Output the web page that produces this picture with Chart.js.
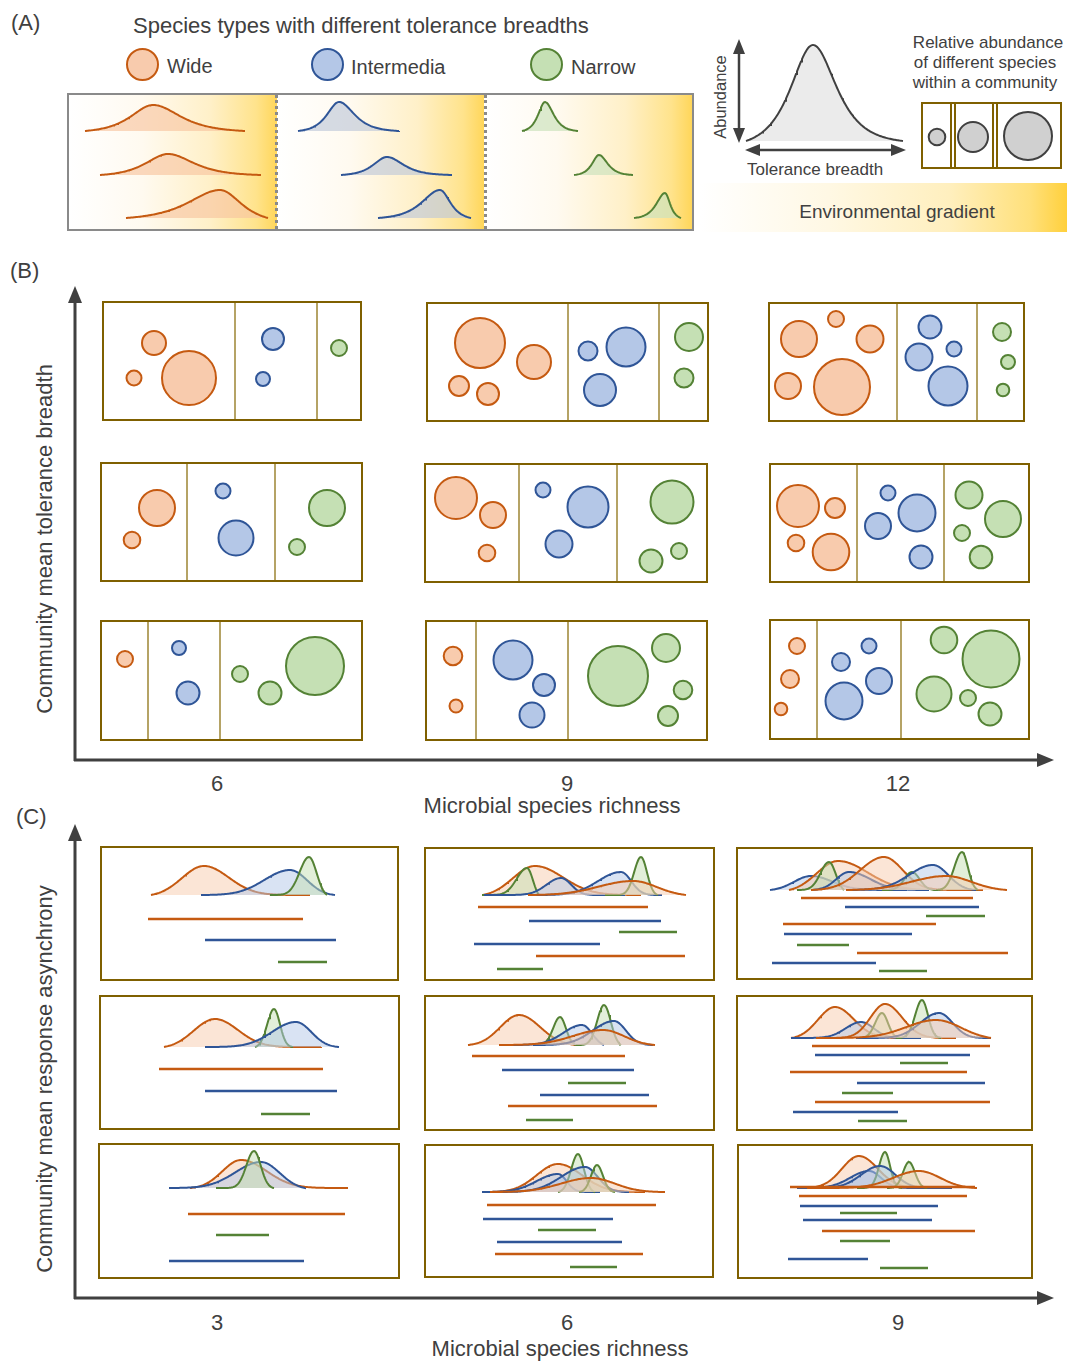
<!DOCTYPE html>
<html>
<head>
<meta charset="utf-8">
<title>Tolerance breadth, richness and asynchrony</title>
<script src="https://cdn.jsdelivr.net/npm/chart.js@4.4.1/dist/chart.umd.min.js"></script>
<style>
  body { margin: 0; width: 1067px; height: 1361px; position: relative; overflow: hidden; background: #fff;
         font-family: "Liberation Sans", Arial, sans-serif; color: #404040; }
  .t { position: absolute; white-space: nowrap; line-height: 1; }
  .c { transform: translate(-50%, -50%); }
  .l { transform: translateY(-50%); }
  .v { transform: translate(-50%, -50%) rotate(-90deg); }
  .frame { position: absolute; box-sizing: border-box; border: 2px solid #7F6000; background: #fff; }
  .sep { position: absolute; top: 0; bottom: 0; width: 2px; background: #B5A365; }
  .dot { position: absolute; width: 33px; height: 33px; box-sizing: border-box; border: 2.5px solid; border-radius: 50%; }
  .grad { flex: 1; background: linear-gradient(90deg, #fff 0%, #fffaf0 35%, #fff0c8 68%, #ffe38c 90%, #ffd65a 100%); }
  canvas { position: absolute; z-index: 2; }
  svg { position: absolute; left: 0; top: 0; }
</style>
</head>
<body>

<!-- (A) -->
<div class="t l" style="left:11px;top:23px;font-size:22px">(A)</div>
<div class="t l" style="left:133px;top:26px;font-size:22px">Species types with different tolerance breadths</div>
<div class="dot" style="left:126px;top:48px;background:#F8CBAD;border-color:#C55A11"></div>
<div class="t l" style="left:167px;top:66px;font-size:20px">Wide</div>
<div class="dot" style="left:311px;top:48px;background:#B4C7E7;border-color:#2F5597"></div>
<div class="t l" style="left:351px;top:67px;font-size:20px">Intermedia</div>
<div class="dot" style="left:530px;top:48px;background:#C5E0B4;border-color:#548235"></div>
<div class="t l" style="left:571px;top:67px;font-size:20px">Narrow</div>

<div style="position:absolute;left:67px;top:93px;width:627px;height:138px;box-sizing:border-box;border:2px solid #8a8a8a;display:flex">
  <div class="grad"></div><div class="grad"></div><div class="grad"></div>
</div>
<div style="position:absolute;left:275px;top:95px;height:134px;border-left:3px dotted #8a8a8a"></div>
<div style="position:absolute;left:484px;top:95px;height:134px;border-left:3px dotted #8a8a8a"></div>

<div class="t v" style="left:720px;top:97px;font-size:16.5px">Abundance</div>
<div class="t l" style="left:747px;top:169px;font-size:17px">Tolerance breadth</div>
<div class="t c" style="left:988px;top:42px;font-size:17px">Relative abundance</div>
<div class="t c" style="left:985px;top:62px;font-size:17px">of different species</div>
<div class="t c" style="left:985px;top:82px;font-size:17px">within a community</div>
<div class="frame" style="left:921px;top:102px;width:141px;height:67px"></div>
<div style="position:absolute;left:950px;top:104px;width:2px;height:63px;border-left:2px solid #7F6000;border-right:2px solid #7F6000"></div>
<div style="position:absolute;left:992px;top:104px;width:2px;height:63px;border-left:2px solid #7F6000;border-right:2px solid #7F6000"></div>
<div style="position:absolute;left:700px;top:183px;width:367px;height:49px;background:linear-gradient(90deg,#fff 0%,#fff8e4 35%,#ffefbe 68%,#ffe07a 90%,#ffd03c 100%)"></div>
<div class="t c" style="left:897px;top:211px;font-size:19px">Environmental gradient</div>

<!-- (B) -->
<div class="t l" style="left:10px;top:271px;font-size:22px">(B)</div>
<div class="t v" style="left:45px;top:539px;font-size:22px">Community mean tolerance breadth</div>
<div class="t c" style="left:217px;top:784px;font-size:22px" id="tb0"></div>
<div class="t c" style="left:567px;top:784px;font-size:22px" id="tb1"></div>
<div class="t c" style="left:898px;top:784px;font-size:22px" id="tb2"></div>
<div class="t c" style="left:552px;top:806px;font-size:22px">Microbial species richness</div>

<!-- (C) -->
<div class="t l" style="left:16px;top:817px;font-size:22px">(C)</div>
<div class="t v" style="left:45px;top:1079px;font-size:22px">Community mean response asynchrony</div>
<div class="t c" style="left:217px;top:1323px;font-size:22px" id="tc0"></div>
<div class="t c" style="left:567px;top:1323px;font-size:22px" id="tc1"></div>
<div class="t c" style="left:898px;top:1323px;font-size:22px" id="tc2"></div>
<div class="t c" style="left:560px;top:1349px;font-size:22px">Microbial species richness</div>

<svg width="1067" height="1361" fill="#404040" stroke="#404040">
  <line x1="75" y1="761" x2="75" y2="298" stroke-width="3"/>
  <polygon points="75,286 68,303 82,303" stroke="none"/>
  <line x1="74" y1="760" x2="1040" y2="760" stroke-width="3"/>
  <polygon points="1054,760 1037,753 1037,767" stroke="none"/>
  <line x1="75" y1="1299" x2="75" y2="836" stroke-width="3"/>
  <polygon points="75,824 68,841 82,841" stroke="none"/>
  <line x1="74" y1="1298" x2="1040" y2="1298" stroke-width="3"/>
  <polygon points="1054,1298 1037,1291 1037,1305" stroke="none"/>
  <line x1="739" y1="50" x2="739" y2="132" stroke-width="2.5"/>
  <polygon points="739,39 733,54 745,54" stroke="none"/>
  <polygon points="739,143 733,128 745,128" stroke="none"/>
  <line x1="757" y1="150" x2="893" y2="150" stroke-width="2.5"/>
  <polygon points="745,150 760,144 760,156" stroke="none"/>
  <polygon points="906,150 891,144 891,156" stroke="none"/>
</svg>

<script>
// ---------------- data ----------------
const speciesTypes = ['Wide', 'Intermedia', 'Narrow'];   // o, b, g
const richnessB = ['6', '9', '12'];
const richnessC = ['3', '6', '9'];

// (A) response curves: [type, row, start, optimum, end, halfLeft, halfRight, height]
const curvesA = [
  ['o', 0, 18, 86, 178, 26, 32, 26],
  ['o', 1, 33, 101, 194, 26, 30, 21],
  ['o', 2, 59, 153, 201, 37, 25, 28],
  ['b', 0, 231, 272, 332, 14, 18, 29],
  ['b', 1, 274, 320, 385, 16, 19, 18],
  ['b', 2, 311, 373, 404, 21, 12, 28],
  ['g', 0, 455, 478, 511, 8, 10, 29],
  ['g', 1, 507, 532, 566, 8, 10, 20],
  ['g', 2, 567, 598, 614, 10, 6, 25],
];
// abundance vs tolerance breadth sketch
const sketchCurve = ['k', 0, 6, 73, 163, 26, 27, 96];
// relative abundance example: [x, y, r]
const abundanceExample = [[16, 35, 8.3], [52, 35, 15], [107, 34, 24]];

// (B) communities: [type, x, y, r]  rows: high / mid / low tolerance breadth
const B6hi = [['o',52,42,12],['o',32,77,7.5],['o',87,77,27],['b',171,38,11],['b',161,78,7],['g',237,47,8]];
const B9hi = [['o',54,41,25],['o',108,60,17],['o',33,84,10],['o',62,92,11],['b',162,49,9.5],['b',200,45,19.5],['b',174,88,16],['g',263,35,14],['g',258,76,9.5]];
const B12hi = [['o',31,37,18],['o',68,17,8],['o',102,37,13.5],['o',20,84,13],['o',74,85,28],['b',162,25,11.5],['b',151,55,13.5],['b',186,47,7.5],['b',180,84,19.5],['g',234,30,9],['g',240,60,7],['g',235,88,6.3]];
const B6mid = [['o',57,46,18],['o',32,78,8.3],['b',123,29,7.5],['b',136,76,17.5],['g',227,46,18],['g',197,85,8]];
const B9mid = [['o',32,35,21],['o',69,52,13],['o',63,90,8.3],['b',119,27,7.5],['b',164,44,20.5],['b',135,81,13.5],['g',248,39,21.5],['g',227,98,11.5],['g',255,88,8]];
const B12mid = [['o',29,43,21],['o',66,45,10],['o',27,80,8.3],['o',62,89,18.3],['b',119,30,7.5],['b',148,50,18.5],['b',109,63,13],['b',152,94,11.5],['g',200,32,13.5],['g',234,56,18],['g',193,70,8],['g',212,94,11.3]];
const B6lo = [['o',25,39,8],['b',79,28,7],['b',88,73,11.5],['g',140,54,8],['g',170,73,11.5],['g',215,46,29]];
const B9lo = [['o',28,36,9.3],['o',31,86,6.5],['b',88,40,19.5],['b',119,65,11],['b',107,95,12.5],['g',193,56,30],['g',241,28,14],['g',258,70,9.3],['g',243,96,10]];
const B12lo = [['o',28,27,8],['o',21,60,9],['o',12,90,6.3],['b',100,27,7.5],['b',72,43,9],['b',110,62,13],['b',75,82,18.5],['g',175,21,13.3],['g',222,40,28.5],['g',165,75,17.5],['g',199,79,8],['g',221,95,11.5]];

// (C) response curves: [type, start, optimum, end, halfLeft, halfRight, height]
//     tolerance ranges: [type, from, to, level]
const C3hiCurves = [['o',51,104,210,26,29,29],['b',101,190,235,30,20,25],['g',170,209,227,11,9,38]];
const C3hiRanges = [['o',48,203,73],['b',105,236,94],['g',178,227,116]];
const C6hiCurves = [['o',59,111,217,26,33,29],['g',58,103,115,12,7,27],['b',60,137,201,17,12,17],['b',105,197,238,27,12,23],['g',181,217,234,8,7,38],['o',104,209,262,40,28,14]];
const C6hiRanges = [['o',54,224,60],['b',105,237,74],['g',195,253,85],['b',50,176,97],['o',112,261,109],['g',73,119,122]];
const C9hiCurves = [['b',34,75,170,20,25,14],['o',53,102,193,25,35,29],['g',61,93,108,10,8,28],['b',75,113,193,15,25,18],['o',75,148,247,28,22,33],['g',146,176,199,9,9,18],['b',110,197,240,28,18,25],['g',200,226,242,9,7,38],['o',110,210,271,40,30,14]];
const C9hiRanges = [['o',65,237,51],['b',109,243,60],['g',190,249,69],['o',47,200,77],['b',48,176,87],['g',61,113,98],['o',121,272,106],['b',36,140,116],['g',143,191,124]];
const C3midCurves = [['o',65,116,222,25,27,28],['g',156,175,194,8,7,38],['b',106,197,240,28,18,25]];
const C3midRanges = [['o',60,224,74],['b',106,238,96],['g',162,211,119]];
const C6midCurves = [['o',44,95,152,22,25,30],['g',109,136,152,8,7,28],['b',76,158,180,22,12,20],['g',152,180,197,8,8,40],['b',109,190,229,25,14,24],['o',75,179,231,35,25,15]];
const C6midRanges = [['o',48,201,61],['b',78,210,75],['g',144,202,88],['b',116,225,100],['o',84,233,111],['g',102,149,125]];
const C9midCurves = [['o',55,99,170,20,22,31],['b',55,125,185,18,15,16],['g',120,146,165,8,7,25],['o',90,149,220,17,20,34],['g',160,186,205,8,7,38],['b',120,203,255,22,16,25],['o',80,200,255,35,30,18]];
const C9midRanges = [['o',76,254,51],['b',79,234,60],['g',164,212,68],['o',54,231,77],['b',121,249,88],['g',106,157,98],['o',79,254,107],['b',57,162,117],['g',122,171,126]];
const C3loCurves = [['o',92,143,250,22,30,28],['b',71,163,207,30,22,26],['g',118,156,176,9,8,37]];
const C3loRanges = [['o',90,247,71],['g',118,171,92],['b',71,206,118]];
const C6loCurves = [['o',64,134,221,25,28,28],['b',58,134,176,25,10,18],['g',134,154,171,8,7,38],['b',60,161,205,28,15,25],['g',155,173,191,7,7,27],['o',66,167,241,35,28,14]];
const C6loRanges = [['o',63,232,61],['b',59,189,75],['g',114,172,86],['b',73,198,98],['o',71,219,110],['g',146,193,123]];
const C9loCurves = [['o',60,122,200,20,22,32],['b',60,132,200,22,14,17],['g',120,148,165,7,6,36],['b',80,143,215,22,18,22],['g',150,172,190,7,7,26],['o',70,182,240,30,25,17]];
const C9loRanges = [['o',53,238,43],['o',62,230,52],['b',63,201,62],['g',103,160,69],['b',66,195,76],['o',85,238,87],['g',103,153,97],['b',51,131,115],['g',143,191,124]];

// ---------------- layout & style ----------------
const colors = {
  o: { line: '#C55A11', fillA: 'rgba(248,196,160,0.65)', fillC: 'rgba(248,203,173,0.5)', bubble: '#F8CBAD' },
  b: { line: '#2F5597', fillA: 'rgba(190,200,216,0.65)', fillC: 'rgba(180,199,231,0.5)', bubble: '#B4C7E7' },
  g: { line: '#548235', fillA: 'rgba(205,226,190,0.7)', fillC: 'rgba(197,224,180,0.5)', bubble: '#C5E0B4' },
  k: { line: '#404040', fillA: '#EBEBEB' },
};
const rowBaseA = [38, 82, 125];

// [left, top, width, height, divider1, divider2]
const framesB = [
  [102, 301, 260, 120, 133, 215, B6hi], [426, 302, 283, 120, 142, 233, B9hi], [768, 302, 257, 120, 129, 209, B12hi],
  [100, 462, 263, 120, 87, 175, B6mid], [424, 463, 284, 120, 95, 193, B9mid], [769, 463, 261, 120, 88, 175, B12mid],
  [100, 620, 263, 121, 48, 120, B6lo], [425, 620, 283, 121, 51, 143, B9lo], [769, 619, 261, 121, 48, 132, B12lo],
];
// [left, top, width, height, baseline]
const framesC = [
  [100, 846, 299, 135, 49, C3hiCurves, C3hiRanges], [424, 847, 291, 134, 48, C6hiCurves, C6hiRanges], [736, 847, 297, 133, 43, C9hiCurves, C9hiRanges],
  [99, 995, 301, 135, 52, C3midCurves, C3midRanges], [424, 995, 291, 136, 50, C6midCurves, C6midRanges], [736, 995, 297, 136, 43, C9midCurves, C9midRanges],
  [98, 1143, 302, 136, 45, C3loCurves, C3loRanges], [424, 1144, 290, 134, 48, C6loCurves, C6loRanges], [737, 1144, 296, 135, 44, C9loCurves, C9loRanges],
];

richnessB.forEach((s, i) => { document.getElementById('tb' + i).textContent = s; });
richnessC.forEach((s, i) => { document.getElementById('tc' + i).textContent = s; });

// ---------------- helpers ----------------
const shapes = {
  sech: (t) => 1 / Math.cosh(1.317 * t),     // half height at t = 1
  gauss: (t) => Math.exp(-0.693 * t * t),
};

function curvePoints(kind, start, mu, end, wl, wr, h, base) {
  const f = shapes[kind];
  const endL = f((mu - start) / wl), endR = f((end - mu) / wr);
  const pts = [];
  for (let x = start; x <= end + 0.001; x += 1) {
    const left = x < mu;
    const t = Math.abs(x - mu) / (left ? wl : wr);
    const e = left ? endL : endR;
    const v = Math.max(0, (f(t) - e) / (1 - e));
    pts.push({ x: x, y: base - h * v });
  }
  return pts;
}

function addCanvas(x, y, w, h) {
  const c = document.createElement('canvas');
  c.width = w; c.height = h;
  c.style.left = x + 'px'; c.style.top = y + 'px';
  c.style.width = w + 'px'; c.style.height = h + 'px';
  document.body.appendChild(c);
  return c;
}

function addFrame(x, y, w, h, border, seps) {
  const d = document.createElement('div');
  d.className = 'frame';
  d.style.cssText = `left:${x}px;top:${y}px;width:${w}px;height:${h}px;border-width:${border}px`;
  (seps || []).forEach((s) => {
    const l = document.createElement('div');
    l.className = 'sep';
    l.style.left = (s - border - 1) + 'px';
    d.appendChild(l);
  });
  document.body.appendChild(d);
}

function opts(w, h) {
  return {
    responsive: false,
    animation: false,
    events: [],
    layout: { padding: 0, autoPadding: false },
    plugins: { legend: { display: false }, tooltip: { enabled: false } },
    scales: {
      x: { type: 'linear', display: false, min: 0, max: w },
      y: { type: 'linear', display: false, min: 0, max: h, reverse: true },
    },
  };
}

function curveDataset(kind, c, base, fillKey, width) {
  const [type, start, mu, end, wl, wr, h] = c;
  return {
    data: curvePoints(kind, start, mu, end, wl, wr, h, base),
    borderColor: colors[type].line,
    backgroundColor: colors[type][fillKey],
    borderWidth: width,
    pointRadius: 0,
    tension: 0,
    fill: { value: base },
    clip: false,
  };
}

// ---------------- (A) ----------------
new Chart(addCanvas(67, 93, 627, 138), {
  type: 'line',
  data: {
    datasets: curvesA.map((c) => {
      const [type, row, ...rest] = c;
      return curveDataset('sech', [type, ...rest], rowBaseA[row], 'fillA', 2);
    }),
  },
  options: opts(627, 138),
});

new Chart(addCanvas(740, 35, 172, 112), {
  type: 'line',
  data: {
    datasets: [(() => {
      const [type, , ...rest] = sketchCurve;
      return curveDataset('sech', [type, ...rest], 106, 'fillA', 2);
    })()],
  },
  options: opts(172, 112),
});

new Chart(addCanvas(921, 102, 141, 67), {
  type: 'bubble',
  data: {
    datasets: [{
      data: abundanceExample.map(([x, y, r]) => ({ x, y, r })),
      backgroundColor: '#D0D0D0',
      borderColor: '#404040',
      borderWidth: 2,
      clip: false,
    }],
  },
  options: opts(141, 67),
});

// ---------------- (B) ----------------
framesB.forEach(([x, y, w, h, d1, d2, comm]) => {
  addFrame(x, y, w, h, 2, [d1, d2]);
  const datasets = ['o', 'b', 'g'].map((type, k) => ({
    label: speciesTypes[k],
    data: comm.filter((s) => s[0] === type).map(([, bx, by, r]) => ({ x: bx, y: by, r: r })),
    backgroundColor: colors[type].bubble,
    borderColor: colors[type].line,
    borderWidth: 2,
    clip: false,
  }));
  new Chart(addCanvas(x, y, w, h), { type: 'bubble', data: { datasets }, options: opts(w, h) });
});

// ---------------- (C) ----------------
framesC.forEach(([x, y, w, h, base, curves, ranges]) => {
  addFrame(x, y, w, h, 2.5, []);
  const datasets = [];
  ranges.forEach(([type, from, to, level]) => {
    datasets.push({
      data: [{ x: from, y: level }, { x: to, y: level }],
      borderColor: colors[type].line,
      borderWidth: 2.5,
      pointRadius: 0,
      fill: false,
      clip: false,
    });
  });
  curves.slice().reverse().forEach((c) => datasets.push(curveDataset('gauss', c, base, 'fillC', 2)));
  new Chart(addCanvas(x, y, w, h), { type: 'line', data: { datasets }, options: opts(w, h) });
});
</script>
</body>
</html>
